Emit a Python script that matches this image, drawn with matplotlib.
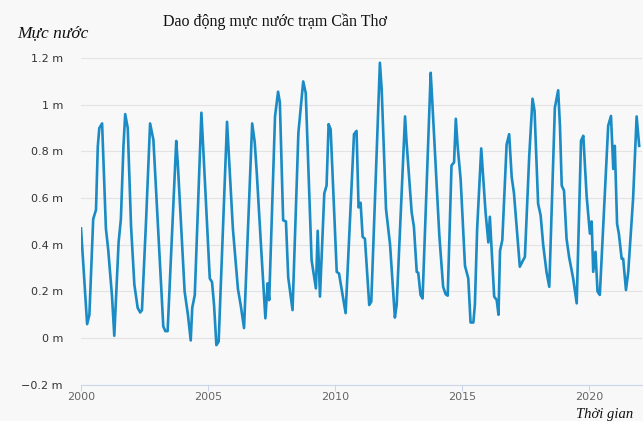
import numpy as np
import matplotlib.pyplot as plt

# Water level at Can Tho station (decimal year, metres)
years = [2000.00, 2000.24, 2000.33, 2000.48, 2000.59, 2000.66, 2000.72, 2000.83,
         2000.98, 2001.07, 2001.22, 2001.31, 2001.48, 2001.57, 2001.67, 2001.74,
         2001.84, 2001.97, 2002.10, 2002.23, 2002.33, 2002.40, 2002.56, 2002.72,
         2002.85, 2003.08, 2003.24, 2003.32, 2003.41, 2003.75, 2003.81, 2004.08,
         2004.21, 2004.32, 2004.38, 2004.48, 2004.74, 2004.81, 2005.07, 2005.16,
         2005.24, 2005.33, 2005.42, 2005.75, 2005.98, 2006.18, 2006.29, 2006.42,
         2006.74, 2006.84, 2006.92, 2007.11, 2007.26, 2007.35, 2007.41, 2007.64,
         2007.76, 2007.83, 2007.96, 2008.07, 2008.16, 2008.33, 2008.56, 2008.75,
         2008.85, 2009.08, 2009.25, 2009.32, 2009.41, 2009.58, 2009.67, 2009.75,
         2009.83, 2010.07, 2010.16, 2010.42, 2010.75, 2010.85, 2010.93, 2011.01,
         2011.09, 2011.18, 2011.35, 2011.43, 2011.77, 2011.84, 2012.01, 2012.17,
         2012.36, 2012.43, 2012.76, 2012.82, 2013.02, 2013.11, 2013.22, 2013.28,
         2013.37, 2013.45, 2013.77, 2013.83, 2014.11, 2014.26, 2014.36, 2014.44,
         2014.59, 2014.69, 2014.76, 2014.83, 2014.95, 2015.12, 2015.25, 2015.34,
         2015.45, 2015.51, 2015.60, 2015.76, 2015.93, 2016.04, 2016.10, 2016.27,
         2016.37, 2016.44, 2016.50, 2016.59, 2016.76, 2016.86, 2016.96, 2017.05,
         2017.28, 2017.41, 2017.48, 2017.65, 2017.78, 2017.86, 2018.00, 2018.10,
         2018.20, 2018.33, 2018.44, 2018.66, 2018.79, 2018.86, 2018.93, 2019.02,
         2019.12, 2019.22, 2019.38, 2019.52, 2019.69, 2019.78, 2019.91, 2020.04,
         2020.11, 2020.17, 2020.26, 2020.34, 2020.43, 2020.76, 2020.87, 2020.96,
         2021.02, 2021.11, 2021.18, 2021.29, 2021.35, 2021.46, 2021.55, 2021.74,
         2021.88, 2021.98]
level = [0.47, 0.06, 0.10, 0.51, 0.55, 0.82, 0.90, 0.92,
         0.47, 0.38, 0.18, 0.01, 0.41, 0.51, 0.82, 0.96,
         0.90, 0.48, 0.23, 0.13, 0.11, 0.12, 0.50, 0.92,
         0.85, 0.38, 0.05, 0.03, 0.03, 0.845, 0.75, 0.20,
         0.10, -0.01, 0.13, 0.185, 0.966, 0.82, 0.256, 0.24,
         0.14, -0.03, -0.015, 0.927, 0.47, 0.21, 0.14, 0.043,
         0.92, 0.84, 0.71, 0.355, 0.085, 0.235, 0.163, 0.95,
         1.056, 1.01, 0.505, 0.50, 0.26, 0.12, 0.88, 1.10,
         1.05, 0.334, 0.213, 0.46, 0.178, 0.62, 0.654, 0.917,
         0.895, 0.284, 0.277, 0.107, 0.874, 0.888, 0.56, 0.58,
         0.434, 0.426, 0.142, 0.156, 1.18, 1.066, 0.554, 0.40,
         0.088, 0.142, 0.95, 0.84, 0.54, 0.476, 0.284, 0.28,
         0.185, 0.17, 1.137, 1.02, 0.44, 0.22, 0.188, 0.182,
         0.74, 0.753, 0.94, 0.824, 0.68, 0.31, 0.256, 0.067,
         0.067, 0.142, 0.47, 0.813, 0.54, 0.41, 0.52, 0.178,
         0.163, 0.10, 0.374, 0.42, 0.83, 0.874, 0.69, 0.62,
         0.306, 0.334, 0.348, 0.78, 1.026, 0.974, 0.576, 0.526,
         0.40, 0.284, 0.22, 0.988, 1.062, 0.91, 0.654, 0.632,
         0.426, 0.348, 0.256, 0.149, 0.846, 0.867, 0.61, 0.448,
         0.50, 0.284, 0.37, 0.20, 0.185, 0.91, 0.952, 0.725,
         0.824, 0.49, 0.448, 0.34, 0.34, 0.206, 0.284, 0.597,
         0.95, 0.824]

yticks = [-0.2, 0, 0.2, 0.4, 0.6, 0.8, 1, 1.2]
ytick_labels = ['\u22120.2 m', '0 m', '0.2 m', '0.4 m', '0.6 m', '0.8 m', '1 m', '1.2 m']
xticks = [2000, 2005, 2010, 2015, 2020]

bg = '#f8f8f8'
fig = plt.figure(figsize=(6.43, 4.21), dpi=100, facecolor=bg)
ax = fig.add_axes([0.126, 0.086, 0.872, 0.776], facecolor=bg)

ax.plot(years, level, color='#1a8bc4', linewidth=1.9, solid_joinstyle='round')

ax.set_xlim(2000, 2022.08)
ax.set_ylim(-0.2, 1.2)
ax.set_yticks(yticks)
ax.set_yticklabels(ytick_labels)
ax.set_xticks(xticks)

ax.grid(axis='y', color='#e3e3e3', linewidth=0.8)
ax.set_axisbelow(True)
for s in ['top', 'right', 'left']:
    ax.spines[s].set_visible(False)
ax.spines['bottom'].set_color('#ccd6eb')
ax.tick_params(axis='y', length=0, labelsize=8, labelcolor='#333333', pad=13)
ax.tick_params(axis='x', length=4, color='#ccd6eb', labelsize=8, labelcolor='#666666', pad=1)

fig.text(0.428, 0.948, 'Dao động mực nước trạm Cần Thơ', ha='center', va='center',
         family='Liberation Serif', fontsize=11.5, color='#111111')
fig.text(0.027, 0.922, 'Mực nước', ha='left', va='center',
         family='Liberation Serif', style='italic', fontsize=12.5, color='#111111')
fig.text(0.985, 0.001, 'Thời gian', ha='right', va='bottom',
         family='Liberation Serif', style='italic', fontsize=10.5, color='#111111')

fig.savefig('out.png', dpi=100, facecolor=bg)
